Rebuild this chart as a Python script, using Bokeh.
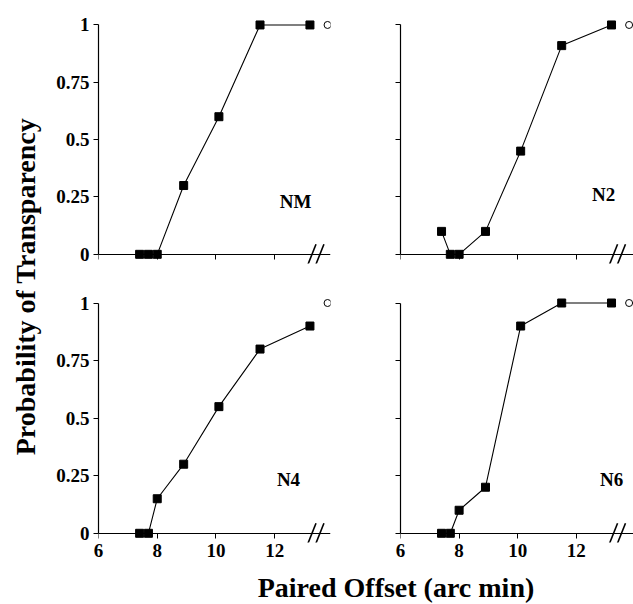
import math
from bokeh.plotting import figure
from bokeh.layouts import row, column
from bokeh.models import FixedTicker, Label, Range1d, LinearAxis
from bokeh.embed import file_html
from bokeh.resources import INLINE

# ---- data ----
offsets = [7.4, 7.7, 8.0, 8.9, 10.1, 11.5, 13.2]
prob_NM = [0.0, 0.0, 0.0, 0.30, 0.60, 1.00, 1.00]
prob_N2 = [0.10, 0.0, 0.0, 0.10, 0.45, 0.91, 1.00]
prob_N4 = [0.0, 0.0, 0.15, 0.30, 0.55, 0.80, 0.90]
prob_N6 = [0.0, 0.0, 0.10, 0.20, 0.90, 1.00, 1.00]
open_x = [13.8]
open_y = [1.0]
x_ticks = [6, 8, 10, 12]
x_tick_labels = ["6", "8", "10", "12"]
y_ticks = [0, 0.25, 0.5, 0.75, 1]
y_tick_labels = ["0", "0.25", "0.5", "0.75", "1"]
panel_names = ["NM", "N2", "N4", "N6"]

FONT = "Liberation Serif"
Y_START, Y_END = -0.04, 1.05


def style_axis(ax):
    ax.axis_line_color = "black"
    ax.axis_line_width = 1.2
    ax.major_tick_line_color = "black"
    ax.major_tick_out = 5
    ax.major_tick_in = 0
    ax.minor_tick_line_color = None
    ax.major_label_text_font = FONT
    ax.major_label_text_font_style = "bold"
    ax.major_label_text_font_size = "19px"
    ax.major_label_text_color = "black"
    ax.major_label_standoff = 4


def make_panel(name, yvals, left, bottom, label_pos, x_end,
               width, height, frame_w, frame_h, mb_left, mb_right, mb_top, mb_bottom):
    p = figure(width=width, height=height, output_backend="svg",
               toolbar_location=None, x_range=Range1d(6, x_end),
               y_range=Range1d(Y_START, Y_END),
               min_border_left=mb_left, min_border_right=mb_right,
               min_border_top=mb_top, min_border_bottom=mb_bottom)
    p.outline_line_color = None
    p.grid.visible = False
    p.background_fill_color = "white"
    p.border_fill_color = "white"

    xa = p.xaxis[0]
    xa.fixed_location = 0
    xa.ticker = FixedTicker(ticks=x_ticks)
    xa.major_label_overrides = {t: "" for t in x_ticks}
    ya = p.yaxis[0]
    ya.ticker = FixedTicker(ticks=y_ticks)
    ya.bounds = (0, 1)
    if left:
        ya.major_label_overrides = {t: s for t, s in zip(y_ticks, y_tick_labels)}
    else:
        ya.major_label_overrides = {t: "" for t in y_ticks}
    style_axis(xa)
    style_axis(ya)

    if bottom:
        lab_axis = LinearAxis(ticker=FixedTicker(ticks=x_ticks))
        style_axis(lab_axis)
        lab_axis.axis_line_color = None
        lab_axis.major_tick_line_color = None
        lab_axis.major_tick_out = 0
        lab_axis.major_label_standoff = 1
        lab_axis.major_label_overrides = {t: s for t, s in zip(x_ticks, x_tick_labels)}
        p.add_layout(lab_axis, "below")

    p.line(offsets, yvals, line_color="black", line_width=1.1)
    p.scatter(offsets, yvals, marker="square", size=8, fill_color="black",
              line_color="black")
    p.scatter(open_x, open_y, marker="circle", size=7, fill_color="white",
              line_color="black", line_width=1)

    # axis break marks
    break_centers = [13.27, 13.54]
    px_per_x = frame_w / (x_end - 6)
    px_per_y = frame_h / (Y_END - Y_START)
    dx = 4.0 / px_per_x
    dy = 10.0 / px_per_y
    x0 = [c - dx for c in break_centers]
    x1 = [c + dx for c in break_centers]
    p.segment(x0=x0, y0=[-dy] * 2, x1=x1, y1=[dy] * 2, line_color="black",
              line_width=1.6)

    p.add_layout(Label(x=label_pos[0], y=label_pos[1], text=name, text_font=FONT,
                       text_font_style="bold", text_font_size="19px",
                       text_align="center", text_baseline="middle",
                       text_color="black"))
    return p


# layout (window pixels, no page margin)
YL_W = 50
LW = 48 + 232 + 20
RW = 50 + 233
TH = 13 + 250 + 20
BH = 8 + 251 + 24
XL_H = 604 - TH - BH

tl = make_panel(panel_names[0], prob_NM, True, False, (12.71, 0.23), 13.9,
                LW, TH, 232, 250, 48, 20, 13, 20)
tr = make_panel(panel_names[1], prob_N2, False, False, (12.93, 0.26), 13.95,
                RW, TH, 233, 250, 50, 0, 13, 20)
bl = make_panel(panel_names[2], prob_N4, True, True, (12.47, 0.235), 13.9,
                LW, BH, 232, 251, 48, 20, 8, 24)
br = make_panel(panel_names[3], prob_N6, False, True, (13.2, 0.235), 13.95,
                RW, BH, 233, 251, 50, 0, 8, 24)


def label_fig(w, h):
    f = figure(width=w, height=h, output_backend="svg", toolbar_location=None,
               x_range=Range1d(0, w), y_range=Range1d(0, h),
               min_border=0)
    f.axis.visible = False
    f.grid.visible = False
    f.outline_line_color = None
    f.background_fill_color = "white"
    f.border_fill_color = "white"
    return f


total_h = TH + BH + XL_H
ylab = label_fig(YL_W, total_h)
ylab.add_layout(Label(x=25, y=total_h - 286, text="Probability of Transparency",
                      angle=math.pi / 2, text_font=FONT, text_font_style="bold",
                      text_font_size="28px", text_align="center",
                      text_baseline="middle", text_color="black"))

xlab = label_fig(LW + RW, XL_H)
xlab.add_layout(Label(x=395.5 - YL_W, y=17, text="Paired Offset (arc min)",
                      text_font=FONT, text_font_style="bold", text_font_size="28px",
                      text_align="center", text_baseline="alphabetic",
                      text_color="black"))

layout = row(ylab, column(row(tl, tr), row(bl, br), xlab))

open("out.html", "w").write(file_html(layout, INLINE))
